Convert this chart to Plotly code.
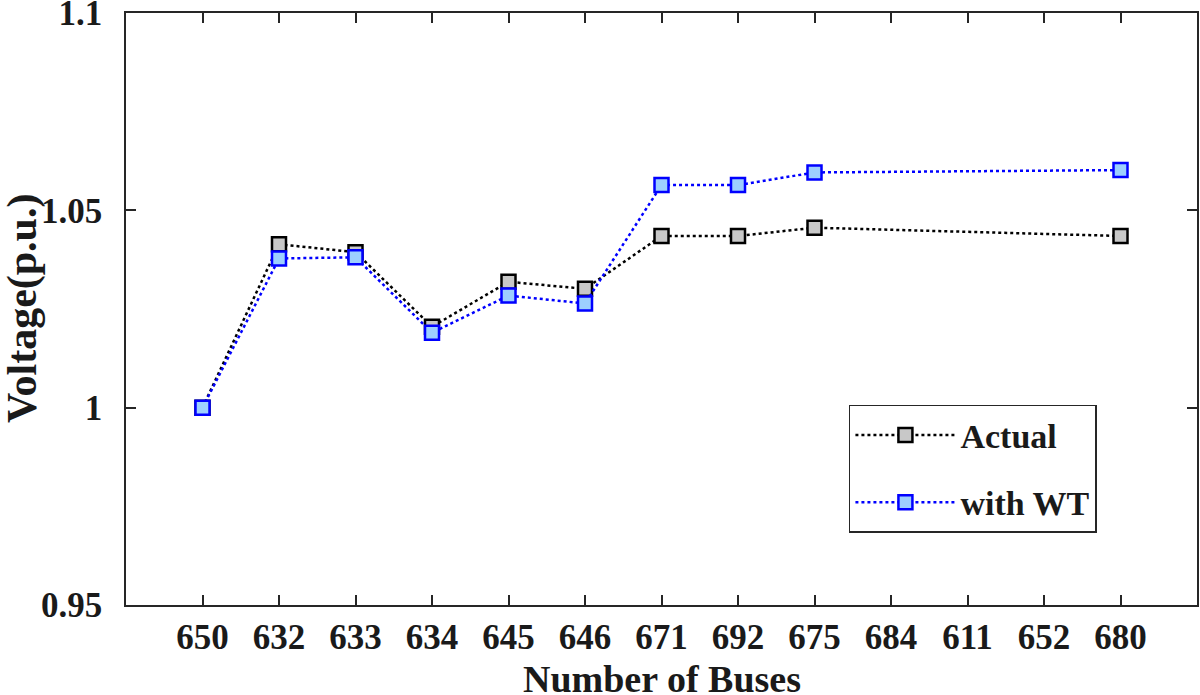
import plotly.graph_objects as go

buses = ["650", "632", "633", "634", "645", "646", "671", "692", "675", "684", "611", "652", "680"]
actual = [1.0, 1.0414, 1.0394, 1.0205, 1.0319, 1.0301, 1.0435, 1.0435, 1.0456, None, None, None, 1.0435]
with_wt = [1.0, 1.0378, 1.0381, 1.0190, 1.0284, 1.0264, 1.0564, 1.0564, 1.0596, None, None, None, 1.0602]
y_ticks = [0.95, 1.0, 1.05, 1.1]
y_ticktext = ["0.95", "1", "1.05", "1.1"]

font_main = dict(family="Liberation Serif", color="#1a1a1a", weight="bold")

fig = go.Figure()
fig.add_trace(go.Scatter(
    x=buses, y=actual, name="Actual", legendgroup="a", mode="lines+markers", connectgaps=True,
    line=dict(color="black", width=2.5, dash="dot"),
    marker=dict(symbol="square", size=14, color="#c8c8c8", line=dict(color="black", width=2.5))
))
fig.add_trace(go.Scatter(
    x=buses, y=with_wt, name="with WT", legendgroup="b", mode="lines+markers", connectgaps=True,
    line=dict(color="#0000ff", width=2.5, dash="dot"),
    marker=dict(symbol="square", size=14, color="#9dcfff", line=dict(color="#0000ff", width=2.5))
))

axis_common = dict(
    showline=True, linecolor="#262626", linewidth=1.5, mirror="ticks",
    ticks="inside", ticklen=10, tickwidth=1.5, tickcolor="#262626",
    showgrid=False, zeroline=False, automargin=False,
    tickfont=dict(size=35, **font_main),
)

fig.update_xaxes(
    type="category", categoryorder="array", categoryarray=buses,
    range=[-1, 13],
    **axis_common
)
fig.update_yaxes(
    range=[0.95, 1.1], tickvals=y_ticks, ticktext=y_ticktext,
    ticklabeloverflow="allow", ticklabelstandoff=15,
    **axis_common
)

# axis titles as annotations so they sit where the original has them
fig.add_annotation(
    text="Number of Buses", xref="paper", yref="paper", x=0.5, y=0,
    xanchor="center", yanchor="top", yshift=-51, showarrow=False,
    font=dict(size=38, **font_main),
)
fig.add_annotation(
    text="Voltage(p.u.)", xref="paper", yref="paper", x=0, y=0.5,
    xanchor="center", yanchor="middle", xshift=-104, textangle=-90, showarrow=False,
    font=dict(size=42, **font_main),
)

fig.update_layout(
    width=1200, height=695,
    margin=dict(l=126, r=3, t=13, b=90),
    plot_bgcolor="white", paper_bgcolor="white",
    legend=dict(
        x=0.675, y=0.338, xanchor="left", yanchor="top",
        bordercolor="#262626", borderwidth=1.5, bgcolor="white",
        font=dict(size=34, **font_main),
        tracegroupgap=20, itemwidth=100,
    ),
)

# drop the default body margin so the figure fills the window from the corner
fig.write_html("out.html", config={"displayModeBar": False},
               post_script="document.body.style.margin='0';")
